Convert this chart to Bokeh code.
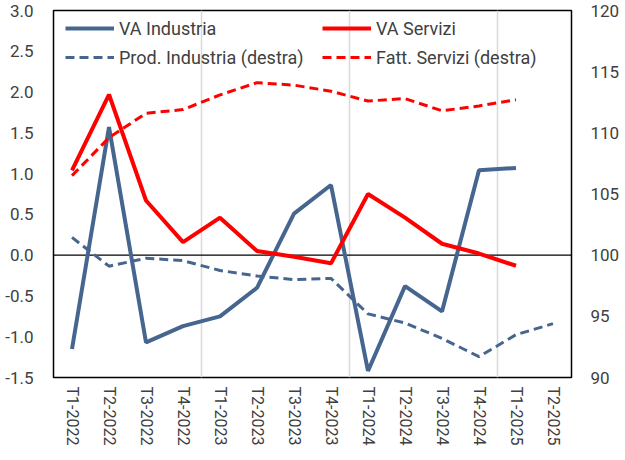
from bokeh.plotting import figure
from bokeh.models import (Range1d, LinearAxis, FixedTicker, NumeralTickFormatter,
                          Span, Legend, LegendItem, FactorRange)
from bokeh.embed import file_html
from bokeh.resources import INLINE

categories = ["T1-2022", "T2-2022", "T3-2022", "T4-2022",
              "T1-2023", "T2-2023", "T3-2023", "T4-2023",
              "T1-2024", "T2-2024", "T3-2024", "T4-2024",
              "T1-2025", "T2-2025"]

va_industria = [-1.15, 1.57, -1.07, -0.87, -0.75, -0.40, 0.51, 0.86,
                -1.42, -0.38, -0.69, 1.04, 1.07]
va_servizi = [1.04, 1.97, 0.67, 0.16, 0.46, 0.05, -0.02, -0.10,
              0.75, 0.46, 0.14, 0.02, -0.13]
prod_industria = [101.45, 99.1, 99.75, 99.55, 98.75, 98.3, 98.0, 98.1,
                  95.2, 94.45, 93.2, 91.7, 93.5, 94.4]
fatt_servizi = [106.5, 109.6, 111.6, 111.9, 113.1, 114.1, 113.9, 113.4,
                112.6, 112.8, 111.8, 112.2, 112.7]

left_ticks = [-1.5, -1.0, -0.5, 0.0, 0.5, 1.0, 1.5, 2.0, 2.5, 3.0]
right_ticks = [90, 95, 100, 105, 110, 115, 120]

BLUE = "#46668F"
RED = "#FF0000"
TXT = "#404040"
FONT = "Roboto"

FRAME_W = 518
FRAME_H = 367

p = figure(frame_width=FRAME_W, frame_height=FRAME_H, output_backend="svg",
           toolbar_location=None,
           x_range=FactorRange(*categories, range_padding=0),
           y_range=Range1d(-1.5, 3.0),
           min_border_left=53, min_border_right=5, min_border_top=10,
           min_border_bottom=5)
p.extra_y_ranges = {"right": Range1d(90, 120)}

p.outline_line_color = "black"
p.outline_line_width = 1.5
p.background_fill_color = "white"
p.border_fill_color = "white"
p.xgrid.grid_line_color = None
p.ygrid.grid_line_color = None

# vertical separators between years
for loc in [4, 8, 12]:
    p.add_layout(Span(location=loc, dimension="height", line_color="#d9d9d9",
                      line_width=1.5, level="underlay"))
p.add_layout(Span(location=0, dimension="width", line_color="black",
                  line_width=1.2, level="underlay"))

# left axis
ya = p.yaxis[0]
ya.ticker = FixedTicker(ticks=left_ticks)
ya.formatter = NumeralTickFormatter(format="0.0")
# right axis
ra = LinearAxis(y_range_name="right", ticker=FixedTicker(ticks=right_ticks))
p.add_layout(ra, "right")

for ax in [p.xaxis[0], ya, ra]:
    ax.axis_line_color = None
    ax.major_tick_line_color = None
    ax.minor_tick_line_color = None
    ax.major_tick_out = 0
    ax.major_tick_in = 0
    ax.minor_tick_out = 0
    ax.minor_tick_in = 0
    ax.major_label_text_font = FONT
    ax.major_label_text_font_size = "17px"
    ax.major_label_text_color = TXT
ya.major_label_standoff = 20
ra.major_label_standoff = 19
p.xaxis[0].major_label_text_font_size = "16px"
p.xaxis[0].major_label_orientation = "vertical"
p.xaxis[0].major_label_standoff = 9

r1 = p.line(categories[:len(va_industria)], va_industria, line_color=BLUE,
            line_width=4)
r2 = p.line(categories[:len(va_servizi)], va_servizi, line_color=RED,
            line_width=4)
r3 = p.line(categories[:len(prod_industria)], prod_industria, line_color=BLUE,
            line_width=3, line_dash="9 5", y_range_name="right")
r4 = p.line(categories[:len(fatt_servizi)], fatt_servizi, line_color=RED,
            line_width=3, line_dash="9 5", y_range_name="right")

ROW_H = 22
LEG_SP = 7
LEG_H = ROW_H * 2 + LEG_SP
LEG_TOP = 7

def mk_legend(items, x):
    lg = Legend(items=items, location=(x, FRAME_H - LEG_TOP - LEG_H),
                orientation="vertical",
                padding=0, margin=0, spacing=LEG_SP, glyph_width=49,
                label_standoff=5, label_height=ROW_H, glyph_height=ROW_H,
                border_line_color=None, background_fill_alpha=0,
                label_text_font=FONT, label_text_font_size="18px",
                label_text_color=TXT)
    p.add_layout(lg, "center")

mk_legend([LegendItem(label="VA Industria", renderers=[r1]),
           LegendItem(label="Prod. Industria (destra)", renderers=[r3])], 12)
mk_legend([LegendItem(label="VA Servizi", renderers=[r2]),
           LegendItem(label="Fatt. Servizi (destra)", renderers=[r4])], 269)

open("out.html", "w").write(file_html(p, INLINE))
